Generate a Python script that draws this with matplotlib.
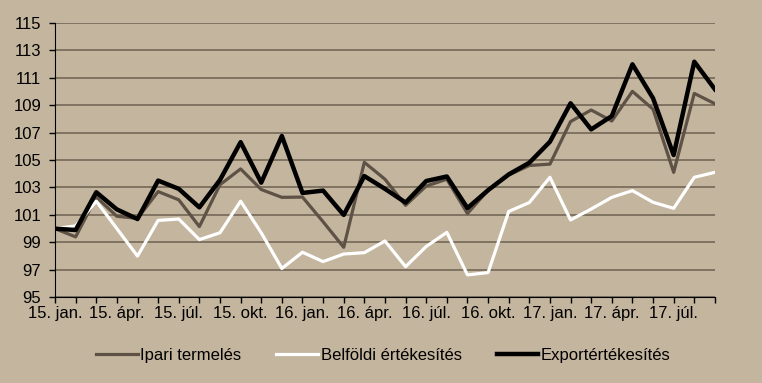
import matplotlib.pyplot as plt

# havi adatok, 2015. jan. - 2017. szep. (2015. jan. = 100)
honapok = ["jan.", "febr.", "márc.", "ápr.", "máj.", "jún.",
           "júl.", "aug.", "szept.", "okt.", "nov.", "dec."]
evek = ["15", "16", "17"]
cimkek = [f"{e}. {h}" for e in evek for h in honapok][:33]

ipari = [100.0, 99.4, 102.3, 100.9, 100.75, 102.7, 102.1, 100.15, 103.2, 104.35,
         102.85, 102.28, 102.3, 100.5, 98.64, 104.83, 103.6, 101.7, 103.1, 103.6,
         101.1, 102.8, 103.9, 104.6, 104.7, 107.8, 108.64, 107.84, 110.0, 108.7,
         104.1, 109.85, 109.1]
belfoldi = [100.0, 100.2, 102.0, 100.0, 98.0, 100.6, 100.7, 99.2, 99.7, 102.0,
            99.7, 97.1, 98.28, 97.6, 98.15, 98.25, 99.1, 97.23, 98.7, 99.73,
            96.63, 96.8, 101.25, 101.9, 103.74, 100.63, 101.43, 102.28, 102.77, 101.92,
            101.48, 103.74, 104.1]
export = [100.0, 99.9, 102.65, 101.4, 100.7, 103.5, 102.9, 101.55, 103.55, 106.3,
          103.35, 106.75, 102.6, 102.77, 101.0, 103.83, 102.9, 101.9, 103.47, 103.8,
          101.5, 102.8, 103.95, 104.8, 106.33, 109.13, 107.23, 108.2, 111.97, 109.5,
          105.36, 112.16, 110.15]

hatter = "#c4b59e"
plt.rcParams["font.family"] = ["Liberation Sans", "DejaVu Sans"]

fig = plt.figure(figsize=(7.62, 3.83), dpi=100, facecolor=hatter)
ax = fig.add_axes([0.0722, 0.2238, 0.866, 0.7169])
ax.set_facecolor(hatter)

x = list(range(len(export)))
ax.plot(x, ipari, color="#5e5145", lw=2.3, label="Ipari termelés", zorder=3)
ax.plot(x, belfoldi, color="white", lw=2.3, label="Belföldi értékesítés", zorder=3)
ax.plot(x, export, color="black", lw=3.2, label="Exportértékesítés", zorder=4)

ax.set_xlim(0, len(x) - 1)
ax.set_ylim(95, 115)
ax.set_yticks(range(95, 116, 2))
ax.set_xticks(x)
ax.set_xticklabels([c if i % 3 == 0 else "" for i, c in enumerate(cimkek)])

ax.grid(axis="y", color="#7a6d5c", lw=1.3, zorder=1)
for s in ["top", "right"]:
    ax.spines[s].set_visible(False)
ax.spines["left"].set_color("black")
ax.spines["bottom"].set_color("black")
ax.spines["left"].set_zorder(5)
ax.spines["bottom"].set_zorder(5)

ax.tick_params(axis="y", direction="out", length=4, width=1, pad=6, labelsize=12)
ax.tick_params(axis="x", direction="out", length=4, width=1, pad=2, labelsize=12)

ax.legend(loc="center", bbox_to_anchor=(0.503, 0.072), bbox_transform=fig.transFigure,
          ncol=3, frameon=False, fontsize=12, handlelength=2.5, handletextpad=0.15,
          columnspacing=2.1)

fig.savefig("out.png", dpi=100, facecolor=hatter)
